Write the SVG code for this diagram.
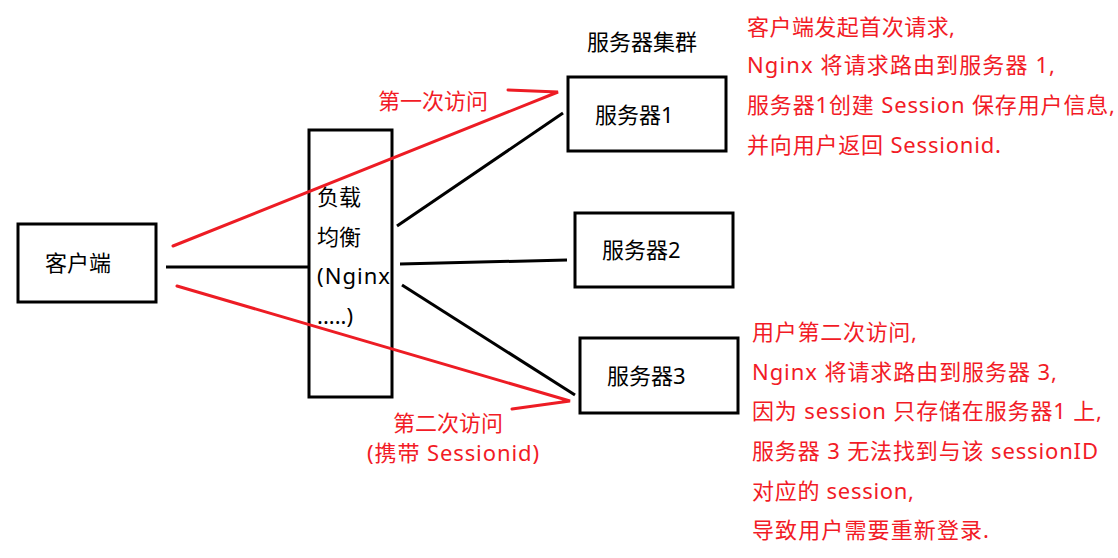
<svg xmlns="http://www.w3.org/2000/svg" width="1118" height="558" viewBox="0 0 1118 558">
<style>
text{font-family:"Noto Sans","Noto Sans CJK SC",sans-serif;font-size:22px}
.k{fill:#000}
.r{fill:#F21B26}
.box{fill:#fff;stroke:#000;stroke-width:3}
.bl{stroke:#000;stroke-width:3;fill:none}
.rl{stroke:#ED1C24;stroke-width:3;fill:none;stroke-linecap:round}
</style>
<rect width="1118" height="558" fill="#fff"/>
<g id="connectors">
<line class="bl" x1="166" y1="267" x2="309" y2="267"/>
<line class="bl" x1="397" y1="226" x2="563" y2="113"/>
<line class="bl" x1="400" y1="264" x2="567" y2="260"/>
<line class="bl" x1="402" y1="285" x2="575" y2="395"/>
</g>
<g id="client"><rect class="box" x="18" y="224" width="138" height="78"/><text class="k" x="45" y="271">客户端</text></g>
<g id="lb"><rect class="box" x="309" y="130" width="83" height="267"/>
<text class="k" x="317" y="205">负载</text>
<text class="k" x="317" y="245">均衡</text>
<text class="k" x="317" y="284" textLength="73" lengthAdjust="spacing">(Nginx</text>
<text class="k" x="317" y="324">.....)</text></g>
<g id="cluster-label"><text class="k" x="587" y="50">服务器集群</text></g>
<g id="server1"><rect class="box" x="568" y="77" width="158" height="74"/><text class="k" x="595" y="123">服务器1</text></g>
<g id="server2"><rect class="box" x="575" y="213" width="158" height="74"/><text class="k" x="602" y="258">服务器2</text></g>
<g id="server3"><rect class="box" x="580" y="338" width="158" height="75"/><text class="k" x="607" y="384">服务器3</text></g>
<g id="red-arrows">
<polyline class="rl" points="173,246 558,92 508,90"/>
<polyline class="rl" points="177,286 570,401 512,409"/>
</g>
<g id="label-first"><text class="r" x="378" y="109">第一次访问</text></g>
<g id="label-second"><text class="r" x="393" y="431">第二次访问</text><text class="r" x="367" y="461" textLength="172" lengthAdjust="spacing">(携带 Sessionid)</text></g>
<g id="note1">
<text class="r" x="747" y="35" textLength="208" lengthAdjust="spacing">客户端发起首次请求,</text>
<text class="r" x="747" y="73" textLength="308" lengthAdjust="spacing">Nginx 将请求路由到服务器 1,</text>
<text class="r" x="747" y="113" textLength="368" lengthAdjust="spacing">服务器1创建 Session 保存用户信息,</text>
<text class="r" x="747" y="153" textLength="254" lengthAdjust="spacing">并向用户返回 Sessionid.</text>
</g>
<g id="note2">
<text class="r" x="752" y="340" textLength="165" lengthAdjust="spacing">用户第二次访问,</text>
<text class="r" x="752" y="380" textLength="305" lengthAdjust="spacing">Nginx 将请求路由到服务器 3,</text>
<text class="r" x="752" y="419" textLength="350" lengthAdjust="spacing">因为 session 只存储在服务器1 上,</text>
<text class="r" x="752" y="459" textLength="346" lengthAdjust="spacing">服务器 3 无法找到与该 sessionID</text>
<text class="r" x="752" y="499" textLength="162" lengthAdjust="spacing">对应的 session,</text>
<text class="r" x="752" y="538" textLength="237" lengthAdjust="spacing">导致用户需要重新登录.</text>
</g>
</svg>
